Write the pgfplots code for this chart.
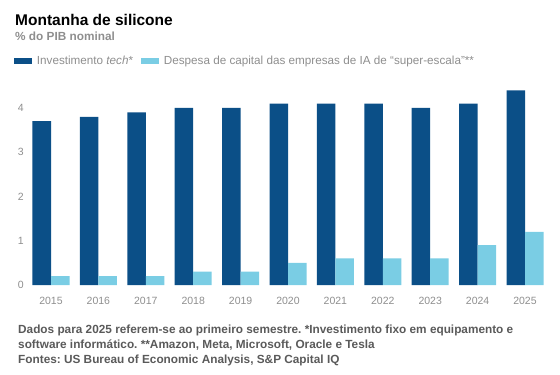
\documentclass[border=0pt]{standalone}
\usepackage{fontspec}
\setmainfont{Liberation Sans}
\usepackage{pgfplots}
\pgfplotsset{compat=1.18}
\definecolor{dark}{HTML}{0B4F87}
\definecolor{light}{HTML}{7ACDE4}
\definecolor{sub}{HTML}{8E8E8E}
\definecolor{foot}{HTML}{5A5A5A}
\frenchspacing
\begin{document}
\begin{tikzpicture}[x=1pt,y=1pt]
\useasboundingbox (0,0) rectangle (560,-375);
\node[anchor=base west, font=\bfseries\fontsize{15.5}{18}\selectfont, inner sep=0] at (15,-25) {Montanha de silicone};
\node[anchor=base west, font=\bfseries\fontsize{11.8}{14}\selectfont, text=sub, inner sep=0] at (15,-40.5) {\% do PIB nominal};
\begin{axis}[
  at={(27.3pt,-285pt)}, anchor=south west,
  scale only axis, width=521.4pt, height=203.6pt,
  xmin=-0.5, xmax=10.5, ymin=0, ymax=4.6,
  ybar=0pt, bar width=18.5pt,
  axis line style={draw=none}, tick style={draw=none},
  xtick=data,
  xticklabels={2015,2016,2017,2018,2019,2020,2021,2022,2023,2024,2025},
  ytick={0,1,2,3,4},
  ticklabel style={font=\fontsize{10.5}{12}\selectfont, text=sub},
  xticklabel style={yshift=-4pt},
  /pgf/number format/assume math mode=true,
  clip=false,
  legend columns=2,
  legend cell align=left,
  legend image code/.code={\fill[#1] (0pt,-3pt) rectangle (17.7pt,3pt);},
  legend style={at={(-0.0255,1.099)}, anchor=west, draw=none, fill=none, inner sep=0pt,
    font=\fontsize{11.7}{14}\selectfont, text=sub,
    nodes={inner sep=0pt},
    /tikz/every odd column/.append style={column sep=5pt},
    /tikz/every even column/.append style={column sep=8pt}},
]
\addplot[fill=dark, draw=none] coordinates {(0,3.7) (1,3.8) (2,3.9) (3,4.0) (4,4.0) (5,4.1) (6,4.1) (7,4.1) (8,4.0) (9,4.1) (10,4.4)};
\addlegendentry{Investimento \textit{tech}*}
\addplot[fill=light, draw=none] coordinates {(0,0.2) (1,0.2) (2,0.2) (3,0.3) (4,0.3) (5,0.5) (6,0.6) (7,0.6) (8,0.6) (9,0.9) (10,1.2)};
\addlegendentry{Despesa de capital das empresas de IA de “super-escala”**}
\end{axis}
\node[anchor=base west, font=\bfseries\fontsize{11.8}{13}\selectfont, text=foot, inner sep=0] at (18,-333) {Dados para 2025 referem-se ao primeiro semestre. *Investimento fixo em equipamento e};
\node[anchor=base west, font=\bfseries\fontsize{11.8}{13}\selectfont, text=foot, inner sep=0] at (18,-348) {software informático. **Amazon, Meta, Microsoft, Oracle e Tesla};
\node[anchor=base west, font=\bfseries\fontsize{11.8}{13}\selectfont, text=foot, inner sep=0] at (18,-363) {Fontes: US Bureau of Economic Analysis, S\&P Capital IQ};
\end{tikzpicture}
\end{document}
